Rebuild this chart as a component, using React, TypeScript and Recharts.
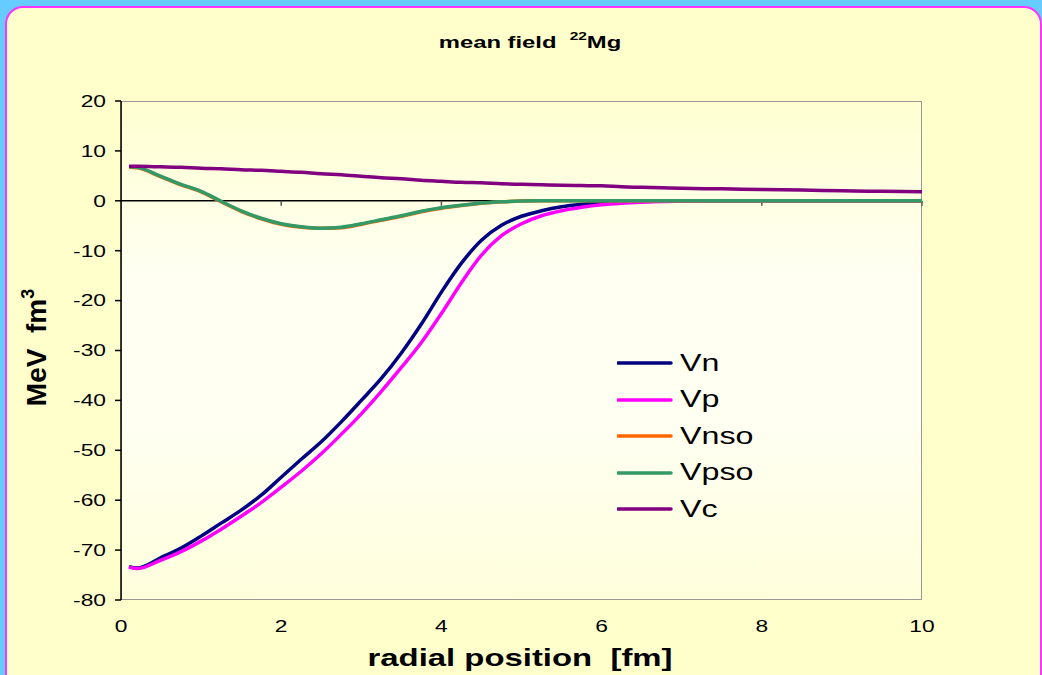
import React from 'react';
import { LineChart, Line, XAxis, YAxis, ReferenceLine } from 'recharts';

const xs = [0.1, 0.2, 0.5, 0.75, 1, 1.25, 1.5, 1.75, 2, 2.25, 2.5, 2.75, 3, 3.25, 3.5, 3.75, 4, 4.25, 4.5, 4.75, 5, 5.25, 5.5, 5.75, 6, 6.25, 6.5, 6.75, 7, 7.5, 8, 8.5, 9, 9.5, 10];
const vn = [-73.3, -73.6, -71.5, -69.6, -67.2, -64.6, -62.0, -59.0, -55.4, -51.8, -48.3, -44.3, -40.0, -35.6, -30.5, -24.7, -18.3, -12.5, -7.9, -4.9, -3.1, -2.0, -1.2, -0.7, -0.35, -0.2, -0.1, 0, 0, 0, 0, 0, 0, 0, 0];
const vp = [-73.4, -73.7, -72.0, -70.3, -68.2, -65.8, -63.2, -60.5, -57.4, -54.2, -50.7, -46.8, -42.7, -38.2, -33.4, -28.4, -22.6, -16.4, -10.9, -7.0, -4.6, -3.0, -2.0, -1.3, -0.8, -0.5, -0.3, -0.15, -0.1, 0, 0, 0, 0, 0, 0];
const vnso = [6.7, 6.6, 4.8, 3.2, 1.8, -0.2, -2.1, -3.6, -4.7, -5.3, -5.5, -5.4, -4.7, -3.9, -3.1, -2.2, -1.5, -0.95, -0.5, -0.2, -0.05, 0, 0, 0, 0, 0, 0, 0, 0, 0, 0, 0, 0, 0, 0];
const vpso = [6.8, 6.7, 4.9, 3.3, 1.9, -0.1, -2.0, -3.5, -4.6, -5.2, -5.5, -5.3, -4.6, -3.8, -3.0, -2.1, -1.4, -0.9, -0.45, -0.2, -0.05, 0, 0, 0, 0, 0, 0, 0, 0, 0, 0, 0, 0, 0, 0];
const vc = [6.9, 6.9, 6.8, 6.7, 6.5, 6.4, 6.2, 6.1, 5.9, 5.7, 5.4, 5.2, 4.9, 4.6, 4.4, 4.1, 3.9, 3.7, 3.6, 3.4, 3.3, 3.2, 3.1, 3.05, 3.0, 2.8, 2.7, 2.6, 2.5, 2.4, 2.25, 2.15, 2.0, 1.9, 1.8];

const xTicks = [0, 2, 4, 6, 8, 10];
const yTicks = [-80, -70, -60, -50, -40, -30, -20, -10, 0, 10, 20];

const seriesNames = ['Vn', 'Vp', 'Vnso', 'Vpso', 'Vc'];
const seriesColors = ['#000080', '#FF00FF', '#FF6600', '#339966', '#800080'];
const seriesValues = [vn, vp, vnso, vpso, vc];

const data = xs.map((x, i) => {
  const row: Record<string, number> = { x };
  seriesNames.forEach((n, k) => {
    row[n] = seriesValues[k][i];
  });
  return row;
});

const FONT = 'Arial, "Liberation Sans", Helvetica, sans-serif';
const SX = 1.38;

function StretchTick(props: any) {
  const { x, y, payload, textAnchor, verticalAnchor } = props;
  const dy = verticalAnchor === 'start' ? '0.71em' : '0.355em';
  return (
    <text
      x={x}
      y={y}
      dy={dy}
      textAnchor={textAnchor}
      fontSize={16.5}
      fontFamily={FONT}
      fill="#000"
      transform={`translate(${x},0) scale(${SX},1) translate(${-x},0)`}
    >
      {payload.value}
    </text>
  );
}

const stretch = (s: number) => ({ transform: `scaleX(${s})`, transformOrigin: 'center center' });

export default function App() {
  return (
    <div style={{ position: 'absolute', left: 0, top: 0, width: 1042, height: 675, background: '#66CCFF', overflow: 'hidden', fontFamily: FONT }}>
      <div style={{ position: 'absolute', left: 5, top: 6, width: 1033, height: 690, border: '2px solid #FF33FF', borderRadius: 18, background: '#FFFFCC' }} />
      <div style={{ position: 'absolute', left: 121, top: 101, width: 799, height: 497, border: '1px solid #999999', background: 'linear-gradient(to bottom, #FFFFD2 0%, #FFFFF2 35%, #FFFFF2 65%, #FFFFDC 100%)' }} />
      <div style={{ position: 'absolute', left: 0, top: 0 }}>
        <LineChart width={1042} height={675} data={data} margin={{ top: 101, right: 120, left: 61, bottom: 0 }}>
          <XAxis
            dataKey="x"
            type="number"
            domain={[0, 10]}
            ticks={xTicks}
            axisLine={false}
            tickLine={false}
            height={75}
            tickMargin={14}
            tick={<StretchTick />}
          />
          <YAxis
            type="number"
            domain={[-80, 20]}
            ticks={yTicks}
            width={60}
            axisLine={{ stroke: '#000', strokeWidth: 1.5 }}
            tickLine={{ stroke: '#000', strokeWidth: 1.5 }}
            tickSize={6}
            tickMargin={9}
            tick={<StretchTick />}
            interval={0}
          />
          <ReferenceLine y={0} stroke="#000" strokeWidth={1.5} />
          {xTicks.slice(1).map((t) => (
            <ReferenceLine key={t} segment={[{ x: t, y: 0 }, { x: t, y: -1 }]} stroke="#555" strokeWidth={1.5} />
          ))}
          {seriesNames.map((n, k) => (
            <Line
              key={n}
              type="monotone"
              dataKey={n}
              stroke={seriesColors[k]}
              strokeWidth={3.5}
              dot={false}
              isAnimationActive={false}
            />
          ))}
        </LineChart>
      </div>
      <div style={{ position: 'absolute', left: 330, width: 400, top: 33, textAlign: 'center', fontWeight: 'bold', fontSize: 17, color: '#000', ...stretch(1.4) }}>
        mean field&nbsp;&nbsp;<sup style={{ fontSize: 11, verticalAlign: 'baseline', position: 'relative', top: -8 }}>22</sup>Mg
      </div>
      <div style={{ position: 'absolute', left: 220, width: 600, top: 644, textAlign: 'center', fontWeight: 'bold', fontSize: 24, color: '#000', whiteSpace: 'pre', ...stretch(1.37) }}>
        radial position  [fm]
      </div>
      <div style={{ position: 'absolute', left: 38, top: 346, width: 0, height: 0 }}>
        <div style={{ position: 'absolute', left: -100, top: -17, width: 200, textAlign: 'center', transform: 'rotate(-90deg)', fontWeight: 'bold', fontSize: 28, color: '#000', whiteSpace: 'pre', lineHeight: '34px' }}>
          MeV  fm<sup style={{ fontSize: 18, verticalAlign: 'baseline', position: 'relative', top: -12 }}>3</sup>
        </div>
      </div>
      <div style={{ position: 'absolute', left: 617, top: 345 }}>
        {seriesNames.map((n, k) => (
          <div key={n} style={{ display: 'flex', alignItems: 'center', height: 36.5 }}>
            <svg width={56} height={10} style={{ display: 'block' }}>
              <line x1={1} y1={5} x2={54} y2={5} stroke={seriesColors[k]} strokeWidth={3.5} strokeLinecap="round" />
            </svg>
            <span style={{ marginLeft: 7, fontSize: 23, color: '#000', display: 'inline-block', transform: `scaleX(1.4)`, transformOrigin: 'left center' }}>{n}</span>
          </div>
        ))}
      </div>
    </div>
  );
}
